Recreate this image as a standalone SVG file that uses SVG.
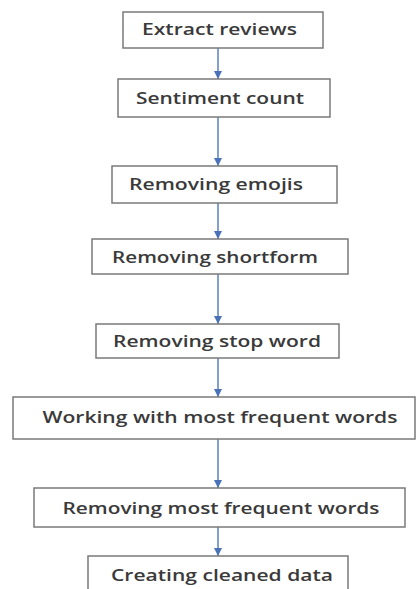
<svg xmlns="http://www.w3.org/2000/svg" width="417" height="589" viewBox="0 0 417 589">
<style>
.box{fill:#ffffff;stroke:#7a7a7a;stroke-width:1.5}
.lbl{font-family:"Open Sans","Liberation Sans",sans-serif;font-size:16.5px;font-weight:600;fill:#3a3a3a;text-anchor:middle}
.con{stroke:#5a82c0;stroke-width:1.5;fill:none}
</style>
<defs>
<marker id="ah" viewBox="0 0 10 10" refX="10" refY="5" markerWidth="8" markerHeight="9" markerUnits="userSpaceOnUse" orient="auto">
<path d="M0,0 L10,5 L0,10 z" fill="#4a72b8"/>
</marker>
</defs>
<rect width="417" height="589" fill="#ffffff"/>
<g id="connectors">
<line class="con" x1="218" y1="48" x2="218" y2="79" marker-end="url(#ah)"/>
<line class="con" x1="218" y1="117" x2="218" y2="166" marker-end="url(#ah)"/>
<line class="con" x1="218" y1="203" x2="218" y2="239" marker-end="url(#ah)"/>
<line class="con" x1="218" y1="274" x2="218" y2="324" marker-end="url(#ah)"/>
<line class="con" x1="218" y1="358" x2="218" y2="397" marker-end="url(#ah)"/>
<line class="con" x1="218" y1="439" x2="218" y2="488" marker-end="url(#ah)"/>
<line class="con" x1="218" y1="527" x2="218" y2="556" marker-end="url(#ah)"/>
</g>
<g id="n1"><rect class="box" x="123" y="12" width="200" height="36"/><text class="lbl" x="219.5" y="35" textLength="155" lengthAdjust="spacingAndGlyphs">Extract reviews</text></g>
<g id="n2"><rect class="box" x="118" y="79" width="212" height="38"/><text class="lbl" x="220" y="104" textLength="168" lengthAdjust="spacingAndGlyphs">Sentiment count</text></g>
<g id="n3"><rect class="box" x="112" y="166" width="225" height="37"/><text class="lbl" x="216" y="190" textLength="174" lengthAdjust="spacingAndGlyphs">Removing emojis</text></g>
<g id="n4"><rect class="box" x="92" y="239" width="256" height="35"/><text class="lbl" x="215" y="263" textLength="206" lengthAdjust="spacingAndGlyphs">Removing shortform</text></g>
<g id="n5"><rect class="box" x="96" y="324" width="243" height="34"/><text class="lbl" x="217" y="347" textLength="208" lengthAdjust="spacingAndGlyphs">Removing stop word</text></g>
<g id="n6"><rect class="box" x="13" y="397" width="402" height="42"/><text class="lbl" x="220" y="423" textLength="355" lengthAdjust="spacingAndGlyphs">Working with most frequent words</text></g>
<g id="n7"><rect class="box" x="34" y="488" width="371" height="39"/><text class="lbl" x="221" y="514" textLength="317" lengthAdjust="spacingAndGlyphs">Removing most frequent words</text></g>
<g id="n8"><rect class="box" x="88" y="556" width="260" height="40"/><text class="lbl" x="222" y="581" textLength="222" lengthAdjust="spacingAndGlyphs">Creating cleaned data</text></g>
</svg>
